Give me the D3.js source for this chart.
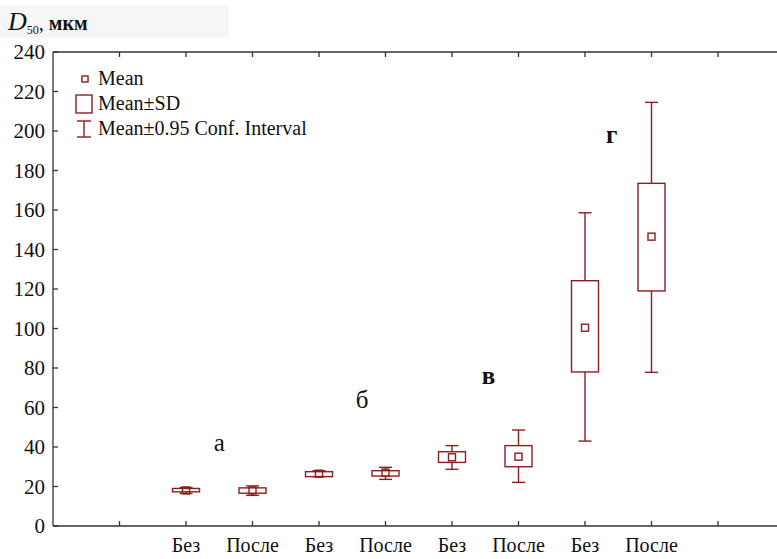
<!DOCTYPE html>
<html>
  <head>
    <meta http-equiv="Content-Type" content="text/html;charset=utf-8">
    <title>D50</title>
    <script src="https://d3js.org/d3.v7.min.js"></script>
    <style>
      html, body { margin: 0; padding: 0; background: #fff; }
      svg text { fill: #111; }
      .box { stroke: #8b1e1e; fill: none; stroke-width: 1.4px; }
      .axis { stroke: #333; stroke-width: 1.3px; fill: none; }
    </style>
  </head>
  <body>
<script type="text/javascript">

// values
var cats   = ["Без", "После", "Без", "После", "Без", "После", "Без", "После"];
var means  = [18, 18, 26.5, 27, 34.8, 35.1, 100.4, 146.5];
var sdLo   = [17.3, 16.6, 25, 25.3, 32.2, 30, 78, 119];
var sdHi   = [19, 19.3, 27.5, 28, 37.6, 40.7, 124.2, 173.5];
var ciLo   = [16.5, 15.5, 25, 23.6, 28.7, 22.1, 43, 77.8];
var ciHi   = [19.5, 20.3, 28, 29.7, 40.7, 48.6, 158.6, 214.5];
var groups = [{t: "а", x: 0.5, y: 38, bold: false},
              {t: "б", x: 2.65, y: 60, bold: false},
              {t: "в", x: 4.55, y: 72, bold: true},
              {t: "г", x: 6.4, y: 194, bold: true}];
var yTicks = d3.range(0, 241, 20);

var SERIF = "'Liberation Serif', 'Times New Roman', 'DejaVu Serif', serif";
var W = 777, H = 559;
var svg = d3.select("body").append("svg").attr("width", W).attr("height", H)
  .attr("font-family", SERIF);

var x = d3.scaleLinear().domain([-2, 9]).range([53, 784.5]);
var y = d3.scaleLinear().domain([0, 240]).range([526, 52]);

// title background
svg.append("rect").attr("x", 0).attr("y", 5).attr("width", 229).attr("height", 33)
  .style("fill", "#f6f6f6");
var title = svg.append("text").attr("x", 8).attr("y", 30).attr("font-family", SERIF);
title.append("tspan").text("D").style("font-style", "italic").style("font-size", "26px");
title.append("tspan").text("50").attr("dy", 4).style("font-size", "12px");
title.append("tspan").text(", ").attr("dy", -4).style("font-size", "20px");
title.append("tspan").text("мкм").style("font-size", "20px").style("font-weight", "bold");

// frame
svg.append("line").attr("class", "axis").attr("x1", x(-2)).attr("x2", x(-2)).attr("y1", y(240)).attr("y2", y(0));
svg.append("line").attr("class", "axis").attr("x1", x(-2)).attr("x2", W + 10).attr("y1", y(0)).attr("y2", y(0));
svg.append("line").attr("class", "axis").attr("x1", x(-2)).attr("x2", W + 10).attr("y1", y(240)).attr("y2", y(240));

// y ticks + labels
yTicks.forEach(function(v) {
  svg.append("line").attr("class", "axis").attr("x1", x(-2)).attr("x2", x(-2) + 5).attr("y1", y(v)).attr("y2", y(v));
  svg.append("text").attr("x", 45).attr("y", y(v) + 7).attr("text-anchor", "end")
    .attr("font-family", SERIF).style("font-size", "21px").text(v);
});

// x ticks
d3.range(-1, 10).forEach(function(i) {
  svg.append("line").attr("class", "axis").attr("x1", x(i)).attr("x2", x(i)).attr("y1", y(0)).attr("y2", y(0) - 5);
  svg.append("line").attr("class", "axis").attr("x1", x(i)).attr("x2", x(i)).attr("y1", y(240)).attr("y2", y(240) + 5);
});
cats.forEach(function(c, i) {
  svg.append("text").attr("x", x(i)).attr("y", 552).attr("text-anchor", "middle")
    .attr("font-family", SERIF).style("font-size", "20px").text(c);
});

// boxes
var bw = 27, cw = 13, mw = 7;
var g = svg.selectAll("g.item").data(cats).enter().append("g").attr("class", "item");
g.each(function(c, i) {
  var s = d3.select(this), cx = x(i);
  s.append("line").attr("class", "box").attr("x1", cx).attr("x2", cx).attr("y1", y(ciHi[i])).attr("y2", y(sdHi[i]));
  s.append("line").attr("class", "box").attr("x1", cx).attr("x2", cx).attr("y1", y(sdLo[i])).attr("y2", y(ciLo[i]));
  s.append("line").attr("class", "box").attr("x1", cx - cw / 2).attr("x2", cx + cw / 2).attr("y1", y(ciHi[i])).attr("y2", y(ciHi[i]));
  s.append("line").attr("class", "box").attr("x1", cx - cw / 2).attr("x2", cx + cw / 2).attr("y1", y(ciLo[i])).attr("y2", y(ciLo[i]));
  s.append("rect").attr("class", "box").attr("x", cx - bw / 2).attr("width", bw)
    .attr("y", y(sdHi[i])).attr("height", y(sdLo[i]) - y(sdHi[i]));
  s.append("rect").attr("class", "box").attr("x", cx - mw / 2).attr("width", mw)
    .attr("y", y(means[i]) - mw / 2).attr("height", mw);
});

// group letters
groups.forEach(function(d) {
  svg.append("text").attr("x", x(d.x)).attr("y", y(d.y)).attr("text-anchor", "middle")
    .attr("font-family", SERIF)
    .style("font-size", "25px").style("font-weight", d.bold ? "bold" : "normal").text(d.t);
});

// legend
var lg = svg.append("g");
lg.append("rect").attr("class", "box").attr("x", 82).attr("y", 76).attr("width", 6).attr("height", 6);
lg.append("rect").attr("class", "box").attr("x", 76).attr("y", 95).attr("width", 16).attr("height", 18);
lg.append("line").attr("class", "box").attr("x1", 84).attr("x2", 84).attr("y1", 121).attr("y2", 137);
lg.append("line").attr("class", "box").attr("x1", 77).attr("x2", 91).attr("y1", 121).attr("y2", 121);
lg.append("line").attr("class", "box").attr("x1", 77).attr("x2", 91).attr("y1", 137).attr("y2", 137);
[["Mean", 85], ["Mean±SD", 110], ["Mean±0.95 Conf. Interval", 135]].forEach(function(d) {
  lg.append("text").attr("x", 98).attr("y", d[1]).attr("font-family", SERIF)
    .style("font-size", "20px").text(d[0]);
});

</script>
  </body>
</html>
